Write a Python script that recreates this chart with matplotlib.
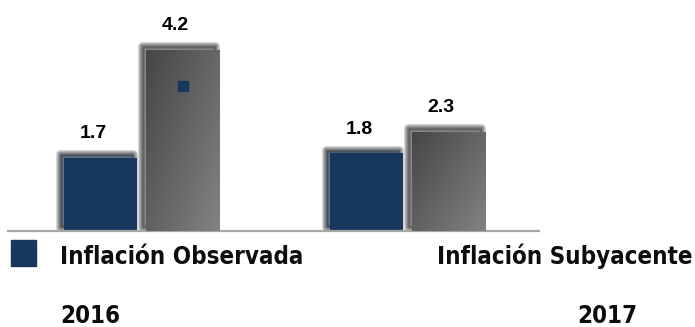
import numpy as np
import matplotlib
matplotlib.use("Agg")
import matplotlib.pyplot as plt
from matplotlib.patches import Rectangle
import matplotlib.patheffects as pe

# Data
years = ["2016", "2017"]
series_names = ["Inflación Observada", "Inflación Subyacente"]
observada = [1.7, 1.8]
subyacente = [4.2, 2.3]
value_labels_obs = ["1.7", "1.8"]
value_labels_sub = ["4.2", "2.3"]

W, H, DPI = 695, 327, 100
fig = plt.figure(figsize=(W / DPI, H / DPI), dpi=DPI)
fig.patch.set_facecolor("white")


def fx(px):
    return px / W


def fy(py):
    return 1 - py / H


# Axes placed in pixel terms: baseline at y=231, line from x=8 to x=539
ax_left, ax_right, ax_base, ax_top = 8, 539, 231, 15
ax = fig.add_axes([fx(ax_left), fy(ax_base), fx(ax_right - ax_left), (ax_base - ax_top) / H])
ax.set_facecolor("none")
for s in ["top", "left", "right"]:
    ax.spines[s].set_visible(False)
ax.spines["bottom"].set_color("#a6a6a6")
ax.spines["bottom"].set_linewidth(1.6)
ax.set_xticks([])
ax.set_yticks([])

blue = "#17375e"
width = 0.275
off = 0.1545
x = np.arange(len(years))

# soft drop shadow towards the upper left
shadow = [pe.Stroke(offset=(-2.6, 2.6), linewidth=lw, foreground="black", alpha=0.16,
                    joinstyle="round") for lw in (6.5, 5, 3.5, 2)] + [pe.Normal()]

bars_obs = ax.bar(x - off, observada, width, color=blue, linewidth=0, zorder=2)
for b in bars_obs:
    b.set_path_effects(shadow)

bars_sub = ax.bar(x + off, subyacente, width, color="#666666", linewidth=0, zorder=2)
# diagonal grey gradient inside each grey bar: dark top-left, light bottom-right
gy, gx = np.mgrid[0:1:100j, 0:1:100j]
grad = gx * 0.55 + gy * 0.45
cmap = matplotlib.colors.LinearSegmentedColormap.from_list("g", ["#464646", "#828282"])
for b in bars_sub:
    b.set_path_effects(shadow)
    x0, w0, h0 = b.get_x(), b.get_width(), b.get_height()
    im = ax.imshow(grad, extent=[x0, x0 + w0, 0, h0], origin="upper", cmap=cmap,
                   aspect="auto", zorder=3, interpolation="bilinear")
    im.set_clip_path(b)
ax.set_xlim(-0.503, 1.497)
ax.set_ylim(0, 5.0)

lab_font = dict(family="Liberation Sans", weight="bold", size=14)
for bars, labels in ((bars_obs, value_labels_obs), (bars_sub, value_labels_sub)):
    for b, t in zip(bars, labels):
        ax.annotate(t, (b.get_x() + b.get_width() / 2, b.get_height()),
                    xytext=(-5, 11), textcoords="offset points",
                    ha="center", va="bottom", **lab_font)

# stray legend marker sitting inside the first grey bar
ax.plot([x[0] + off], [3.35], marker="s", markersize=6.5, color=blue, zorder=4,
        linestyle="none")

cond = dict(family="DejaVu Sans", stretch="condensed", weight="bold", size=17.3, color="#0d0d0d")

# legend swatch
fig.patches.append(Rectangle((fx(11), fy(266)), fx(25), (266 - 240) / H,
                             transform=fig.transFigure, color=blue, zorder=5))
fig.text(fx(60), fy(264), series_names[0], va="baseline", ha="left", **cond)
fig.text(fx(437), fy(264), series_names[1], va="baseline", ha="left", **cond)

fig.text(fx(60), fy(323), years[0], va="baseline", ha="left", **cond)
fig.text(fx(577), fy(323), years[1], va="baseline", ha="left", **cond)

fig.savefig("out.png", dpi=DPI, facecolor="white")
